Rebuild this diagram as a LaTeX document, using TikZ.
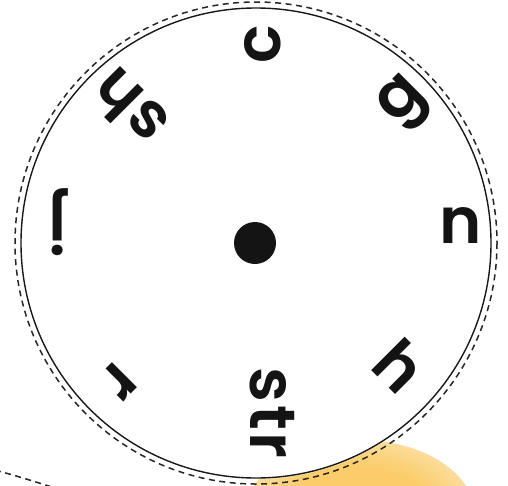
\documentclass[tikz,border=0pt]{standalone}
\usepackage{fontspec}
\newfontfamily\popfont{Poppins}[UprightFont=* SemiBold, LetterSpace=4]
\definecolor{glowcore}{RGB}{251,204,105}
\definecolor{glowmid}{RGB}{252,230,180}
\pgfdeclareradialshading{glow}{\pgfpoint{0cm}{0cm}}{%
  color(0bp)=(glowcore); color(16bp)=(glowcore); color(30bp)=(glowmid); color(46bp)=(white); color(50bp)=(white)}
\tikzset{
  px/.style={x=1pt,y=-1pt},
  letter/.style={font=\popfont\fontsize{64}{64}\selectfont, inner sep=0pt, text=black!92},
  rimdash/.style={draw=black!85, line width=1.5pt, dash pattern=on 6pt off 4.5pt},
  rimline/.style={draw=black!90, line width=1.4pt},
}
\begin{document}
\begin{tikzpicture}[px]
\useasboundingbox (0,0) rectangle (508,485);
\clip (0,0) rectangle (508,485);
% yellow glow
\shade[shading=glow] (360,515) ellipse [x radius=115, y radius=75];
% circles
\coordinate (C) at (256,243);
\fill[white] (C) circle [radius=236];
\draw[rimdash] (C) circle [radius=241];
\draw[rimline] (C) circle [radius=235];
% centre dot
\fill[black!92] (255,243) circle [radius=21];
% stray dashed arc bottom-left
\coordinate (a1) at (-5,470);
\coordinate (a2) at (55,488);
\draw[rimdash] (a1) .. controls (20,477) .. (a2);
% letters
\node[letter, rotate=90]   (lc)   at (263,44)  {c};
\node[letter, rotate=45]   (lg)   at (405,104) {g};
\node[letter, rotate=0]    (ln)   at (461,226) {n};
\node[letter, rotate=-45]  (lh)   at (400,366) {h};
\node[letter, rotate=-90]  (lstr) at (272,413) {str};
\node[letter, rotate=-135] (lr)   at (119,381) {r};
\node[letter, rotate=180]  (lj)   at (58,222)  {j};
\node[letter, rotate=135]  (lsh)  at (129,108) {sh};
\end{tikzpicture}
\end{document}
